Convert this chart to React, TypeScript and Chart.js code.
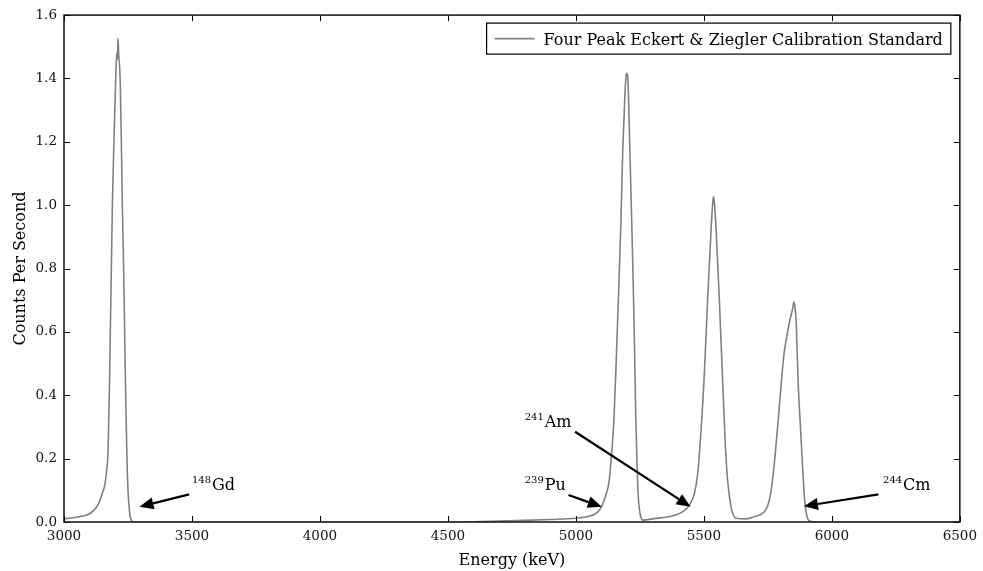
import React, { useEffect, useRef } from 'react';
import { Chart, registerables } from 'chart.js';

Chart.register(...registerables);

// ---- Data ----
const energyKeV = [
  3000, 3020, 3040, 3060, 3080, 3100, 3114, 3125, 3135, 3142, 3150, 3159, 3166, 3172, 3177, 3181,
  3185, 3189, 3195, 3202, 3206, 3209, 3211, 3214, 3217, 3220, 3224, 3228, 3233, 3237, 3241, 3246,
  3250, 3254, 3258, 3263, 3270, 3400, 3600, 3800, 4000, 4200, 4400, 4500, 4600, 4700, 4800, 4900,
  5000, 5050, 5080, 5100, 5115, 5130, 5140, 5149, 5158, 5168, 5176, 5183, 5190, 5195, 5198, 5202,
  5206, 5211, 5218, 5224, 5229, 5234, 5239, 5243, 5248, 5254, 5262, 5300, 5340, 5380, 5418, 5444,
  5463, 5476, 5489, 5502, 5515, 5528, 5533, 5537, 5542, 5548, 5560, 5573, 5584, 5593, 5606, 5615,
  5625, 5664, 5690, 5729, 5748, 5761, 5774, 5787, 5800, 5813, 5826, 5839, 5846, 5852, 5857, 5861,
  5868, 5878, 5887, 5894, 5903, 5912, 5930, 6100, 6300, 6500,
];
const countsPerSecond = [
  0.010, 0.012, 0.014, 0.017, 0.020, 0.026, 0.035, 0.045, 0.058, 0.072, 0.092, 0.115, 0.160, 0.220, 0.400, 0.600,
  0.800, 1.000, 1.200, 1.400, 1.480, 1.460, 1.527, 1.470, 1.440, 1.380, 1.200, 1.000, 0.800, 0.600, 0.400, 0.200,
  0.100, 0.050, 0.020, 0.005, 0.000, 0.000, 0.000, 0.000, 0.000, 0.000, 0.000, 0.000, 0.001, 0.003, 0.005, 0.008,
  0.012, 0.018, 0.028, 0.048, 0.080, 0.130, 0.220, 0.330, 0.520, 0.750, 0.950, 1.170, 1.320, 1.400, 1.416, 1.410,
  1.330, 1.170, 0.950, 0.750, 0.550, 0.330, 0.180, 0.090, 0.040, 0.015, 0.006, 0.010, 0.014, 0.020, 0.033, 0.054,
  0.090, 0.154, 0.290, 0.470, 0.710, 0.920, 0.990, 1.027, 1.000, 0.920, 0.710, 0.450, 0.240, 0.130, 0.048, 0.022,
  0.012, 0.010, 0.015, 0.027, 0.048, 0.090, 0.175, 0.290, 0.416, 0.530, 0.595, 0.648, 0.670, 0.695, 0.670, 0.627,
  0.448, 0.290, 0.154, 0.069, 0.017, 0.003, 0.000, 0.000, 0.000, 0.000,
];

const xTicks = [3000, 3500, 4000, 4500, 5000, 5500, 6000, 6500];
const yTicks = [0.0, 0.2, 0.4, 0.6, 0.8, 1.0, 1.2, 1.4, 1.6];

const legendLabel = 'Four Peak Eckert & Ziegler Calibration Standard';
const xTitle = 'Energy (keV)';
const yTitle = 'Counts Per Second';

const isotopeMass = ['148', '239', '241', '244'];
const isotopeElement = ['Gd', 'Pu', 'Am', 'Cm'];
const labelX = [3500, 4800, 4800, 6200];
const labelY = [0.1, 0.1, 0.3, 0.1];
const arrowFromX = [3489, 4971, 4997, 6182];
const arrowFromY = [0.087, 0.085, 0.285, 0.087];
const arrowToX = [3295, 5101, 5448, 5891];
const arrowToY = [0.048, 0.048, 0.048, 0.05];

const FONT = '"DejaVu Serif", "Liberation Serif", serif';
const LINE_COLOR = '#808080';

function drawArrow(ctx: CanvasRenderingContext2D, x1: number, y1: number, x2: number, y2: number) {
  const ang = Math.atan2(y2 - y1, x2 - x1);
  const c = Math.cos(ang);
  const s = Math.sin(ang);
  const headLen = 14;
  const headHalf = 6;
  const bx = x2 - headLen * c;
  const by = y2 - headLen * s;
  ctx.save();
  ctx.strokeStyle = '#000';
  ctx.fillStyle = '#000';
  ctx.lineWidth = 2.2;
  ctx.beginPath();
  ctx.moveTo(x1, y1);
  ctx.lineTo(bx, by);
  ctx.stroke();
  ctx.beginPath();
  ctx.moveTo(x2, y2);
  ctx.lineTo(bx - headHalf * s, by + headHalf * c);
  ctx.lineTo(bx + headHalf * s, by - headHalf * c);
  ctx.closePath();
  ctx.fill();
  ctx.restore();
}

const decorPlugin = {
  id: 'decor',
  afterDatasetsDraw(chart: any) {
    const ctx: CanvasRenderingContext2D = chart.ctx;
    const { left, right, top, bottom } = chart.chartArea;
    const xs = chart.scales.x;
    const ys = chart.scales.y;
    ctx.save();

    // inward ticks
    ctx.strokeStyle = '#000';
    ctx.lineWidth = 1;
    const tl = 6;
    ctx.beginPath();
    xTicks.forEach((v) => {
      const px = Math.round(xs.getPixelForValue(v)) + 0.5;
      ctx.moveTo(px, bottom);
      ctx.lineTo(px, bottom - tl);
      ctx.moveTo(px, top);
      ctx.lineTo(px, top + tl);
    });
    yTicks.forEach((v) => {
      const py = Math.round(ys.getPixelForValue(v)) + 0.5;
      ctx.moveTo(left, py);
      ctx.lineTo(left + tl, py);
      ctx.moveTo(right, py);
      ctx.lineTo(right - tl, py);
    });
    ctx.stroke();

    // frame
    ctx.lineWidth = 1.5;
    ctx.strokeStyle = '#111';
    ctx.strokeRect(left, top, right - left, bottom - top);

    // legend
    ctx.font = `16px ${FONT}`;
    const tw = ctx.measureText(legendLabel).width;
    const pad = 8;
    const lineLen = 40;
    const gap = 9;
    const boxW = pad + lineLen + gap + tw + pad;
    const boxH = 31;
    const bx = right - 9 - boxW;
    const by = top + 8;
    ctx.fillStyle = '#fff';
    ctx.fillRect(bx, by, boxW, boxH);
    ctx.lineWidth = 1.2;
    ctx.strokeStyle = '#000';
    ctx.strokeRect(bx, by, boxW, boxH);
    ctx.strokeStyle = LINE_COLOR;
    ctx.lineWidth = 1.6;
    ctx.beginPath();
    ctx.moveTo(bx + pad, by + boxH / 2);
    ctx.lineTo(bx + pad + lineLen, by + boxH / 2);
    ctx.stroke();
    ctx.fillStyle = '#000';
    ctx.textBaseline = 'alphabetic';
    ctx.textAlign = 'left';
    ctx.fillText(legendLabel, bx + pad + lineLen + gap, by + boxH / 2 + 6);

    // annotations
    for (let i = 0; i < isotopeElement.length; i++) {
      drawArrow(
        ctx,
        xs.getPixelForValue(arrowFromX[i]),
        ys.getPixelForValue(arrowFromY[i]),
        xs.getPixelForValue(arrowToX[i]),
        ys.getPixelForValue(arrowToY[i])
      );
      const tx = xs.getPixelForValue(labelX[i]);
      const ty = ys.getPixelForValue(labelY[i]);
      ctx.fillStyle = '#000';
      ctx.textAlign = 'left';
      ctx.textBaseline = 'alphabetic';
      ctx.font = `10px ${FONT}`;
      ctx.fillText(isotopeMass[i], tx, ty - 7);
      const mw = ctx.measureText(isotopeMass[i]).width;
      ctx.font = `16px ${FONT}`;
      ctx.fillText(isotopeElement[i], tx + mw + 1, ty);
    }

    // axis titles
    ctx.font = `16px ${FONT}`;
    ctx.fillStyle = '#000';
    ctx.textAlign = 'center';
    ctx.textBaseline = 'alphabetic';
    ctx.fillText(xTitle, (left + right) / 2, 565);
    ctx.save();
    ctx.translate(25, (top + bottom) / 2);
    ctx.rotate(-Math.PI / 2);
    ctx.fillText(yTitle, 0, 0);
    ctx.restore();

    ctx.restore();
  },
};

export default function App() {
  const canvasRef = useRef<HTMLCanvasElement | null>(null);

  useEffect(() => {
    document.body.style.margin = '0';
    document.body.style.overflow = 'hidden';
    const canvas = canvasRef.current;
    if (!canvas) return;
    const chart = new Chart(canvas, {
      type: 'line',
      data: {
        datasets: [
          {
            label: legendLabel,
            data: energyKeV.map((e, i) => ({ x: e, y: countsPerSecond[i] })),
            borderColor: LINE_COLOR,
            borderWidth: 1.6,
            pointRadius: 0,
            tension: 0,
            cubicInterpolationMode: 'monotone',
            fill: false,
          },
        ],
      },
      options: {
        animation: false,
        responsive: false,
        maintainAspectRatio: false,
        devicePixelRatio: 1,
        layout: { padding: { top: 15, right: 18, left: 0, bottom: 0 } },
        plugins: {
          legend: { display: false },
          tooltip: { enabled: false },
        },
        scales: {
          x: {
            type: 'linear',
            min: 3000,
            max: 6500,
            afterFit: (s: any) => {
              s.height = 49;
            },
            afterBuildTicks: (s: any) => {
              s.ticks = xTicks.map((v) => ({ value: v }));
            },
            grid: { display: false, drawTicks: false, tickLength: 0 },
            border: { display: false },
            ticks: {
              color: '#111',
              font: { family: FONT, size: 13.5 },
              padding: 6,
              maxRotation: 0,
              callback: (v: any) => String(v),
            },
          },
          y: {
            type: 'linear',
            min: 0,
            max: 1.6,
            afterFit: (s: any) => {
              s.width = 64;
            },
            afterBuildTicks: (s: any) => {
              s.ticks = yTicks.map((v) => ({ value: v }));
            },
            grid: { display: false, drawTicks: false, tickLength: 0 },
            border: { display: false },
            ticks: {
              color: '#111',
              font: { family: FONT, size: 13.5 },
              padding: 7,
              callback: (v: any) => Number(v).toFixed(1),
            },
          },
        },
      },
      plugins: [decorPlugin],
    });
    return () => chart.destroy();
  }, []);

  return (
    <div style={{ width: 983, height: 571, position: 'relative', background: '#fff' }}>
      <canvas ref={canvasRef} width={983} height={571} style={{ display: 'block' }} />
    </div>
  );
}
